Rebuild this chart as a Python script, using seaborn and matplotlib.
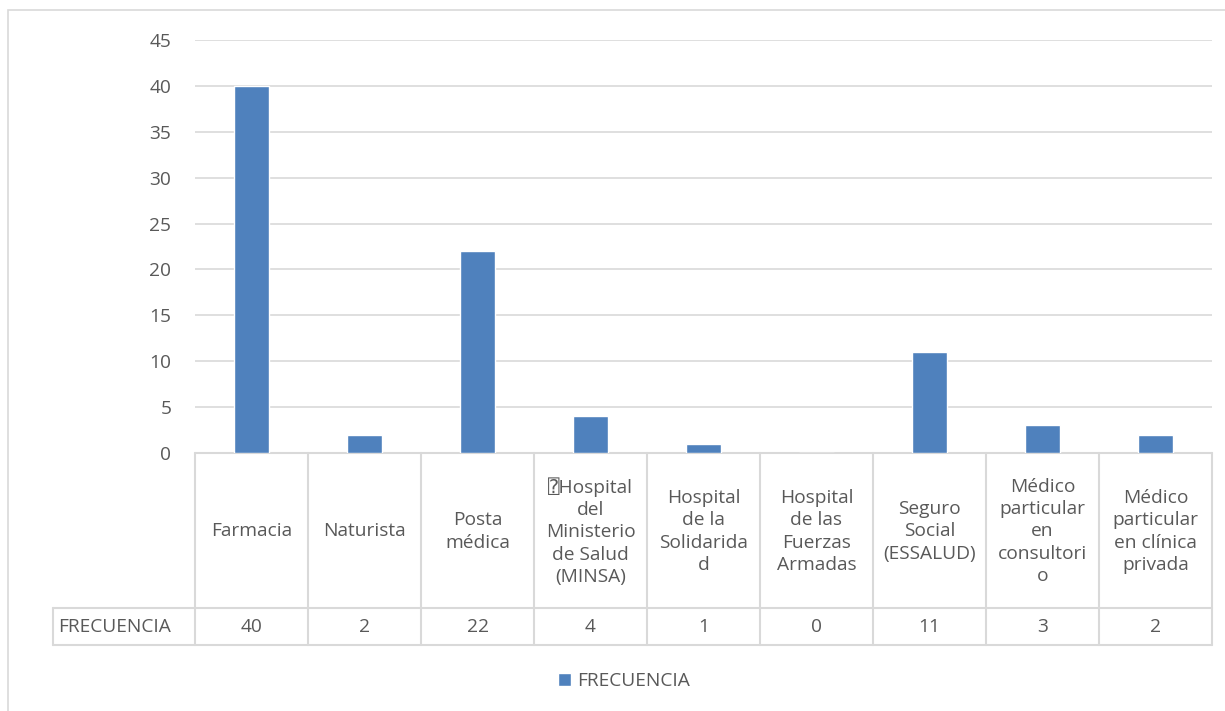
import matplotlib
matplotlib.use("Agg")
import matplotlib.pyplot as plt
import matplotlib.transforms as mtransforms
from matplotlib.patches import Rectangle
import seaborn as sns
import pandas as pd

categories = [
    "Farmacia",
    "Naturista",
    "Posta\nmédica",
    "\u2370Hospital\ndel\nMinisterio\nde Salud\n(MINSA)",
    "Hospital\nde la\nSolidarida\nd",
    "Hospital\nde las\nFuerzas\nArmadas",
    "Seguro\nSocial\n(ESSALUD)",
    "Médico\nparticular\nen\nconsultori\no",
    "Médico\nparticular\nen clínica\nprivada",
]
values = [40, 2, 22, 4, 1, 0, 11, 3, 2]
series_name = "FRECUENCIA"
yticks = [0, 5, 10, 15, 20, 25, 30, 35, 40, 45]

sns.set_theme(style="white")
plt.rcParams["font.family"] = ["Open Sans", "DejaVu Sans", "DejaVu Sans Mono",
                               "Noto Sans", "Noto Sans CJK SC"]

TXT = "#595959"
GRID = "#D9D9D9"
BLUE = "#4F81BD"
FS = 13.8

W, H = 1225, 711
fig = plt.figure(figsize=(W / 100, H / 100), dpi=100)

# outer chart border
fig.patches.append(Rectangle((8 / W, -0.1), 1.2, (H - 10) / H + 0.1,
                             transform=fig.transFigure, fill=False,
                             edgecolor=GRID, linewidth=1.2, zorder=0))

left, right, top, bottom = 195, 1212, 40, 453
ax = fig.add_axes([left / W, (H - bottom) / H, (right - left) / W, (bottom - top) / H])

df = pd.DataFrame({"cat": range(len(categories)), "val": values})
sns.barplot(data=df, x="cat", y="val", color=BLUE, width=0.31, ax=ax,
            label=series_name, saturation=1, zorder=3)

ax.set_ylim(0, 45)
ax.set_xlim(-0.5, len(categories) - 0.5)
ax.set_yticks(yticks)
ax.set_yticklabels([str(t) for t in yticks], fontsize=FS, color=TXT)
ax.tick_params(axis="y", length=0, pad=17)
ax.set_xticks([])
ax.set_xlabel("")
ax.set_ylabel("")
for s in ax.spines.values():
    s.set_visible(False)
ax.yaxis.grid(True, color=GRID, linewidth=1.2, zorder=0)
ax.set_axisbelow(True)

# data table
ph = bottom - top
def yfrac(py):
    return (bottom - py) / ph

cell_w = (right - left) / len(categories)
def xdata(px):
    return (px - left) / cell_w - 0.5

blend = mtransforms.blended_transform_factory(ax.transData, ax.transAxes)
row1_top, row1_bot, row2_bot = 453, 608, 645
lk = dict(color=GRID, linewidth=1.5, transform=blend, clip_on=False, zorder=1)

# horizontal lines
ax.plot([xdata(left), xdata(right)], [yfrac(row1_top)] * 2, **lk)
ax.plot([xdata(53), xdata(right)], [yfrac(row1_bot)] * 2, **lk)
ax.plot([xdata(53), xdata(right)], [yfrac(row2_bot)] * 2, **lk)
# vertical lines
for i in range(len(categories) + 1):
    ax.plot([i - 0.5, i - 0.5], [yfrac(row1_top), yfrac(row2_bot)], **lk)
ax.plot([xdata(53), xdata(53)], [yfrac(row1_bot), yfrac(row2_bot)], **lk)

for i, (c, v) in enumerate(zip(categories, values)):
    ax.text(i, yfrac((row1_top + row1_bot) / 2 + 1), c, transform=blend,
            ha="center", va="center", fontsize=FS, color=TXT,
            linespacing=1.3, multialignment="center")
    ax.text(i, yfrac((row1_bot + row2_bot) / 2), str(v), transform=blend,
            ha="center", va="center", fontsize=FS, color=TXT)
ax.text(xdata(58), yfrac((row1_bot + row2_bot) / 2), series_name, transform=blend,
        ha="left", va="center", fontsize=FS, color=TXT)

leg = ax.legend(loc="center", bbox_to_anchor=(624 / W, (H - 681) / H),
                bbox_transform=fig.transFigure, frameon=False,
                fontsize=FS, handlelength=0.7, handleheight=0.7,
                handletextpad=0.3, labelcolor=TXT)

fig.savefig("out.png", dpi=100)
